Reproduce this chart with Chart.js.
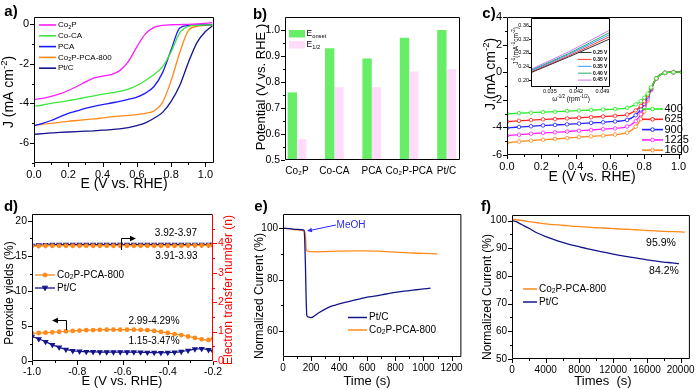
<!DOCTYPE html>
<html>
<head>
<meta charset="utf-8">
<script src="https://cdn.jsdelivr.net/npm/chart.js@4"></script>
<style>
  body { margin: 0; background: #fff; }
  #wrap { position: relative; width: 700px; height: 390px; overflow: hidden; background: #fff; }
  #wrap canvas { position: absolute; }
</style>
</head>
<body>
<div id="wrap"></div>
<script>
// ---- a) LSV of the catalysts ----
const aE = [0, 0.05, 0.1, 0.15, 0.2, 0.25, 0.3, 0.35, 0.4, 0.45, 0.5, 0.55, 0.6, 0.65, 0.7, 0.75, 0.8, 0.85, 0.9, 0.95, 1.0, 1.04];
const aNames = ["Co_{2}P", "Co-CA", "PCA", "Co_{2}P-PCA-800", "Pt/C"];
const aCo2P = [-3.8, -3.75, -3.65, -3.52, -3.35, -3.15, -2.92, -2.72, -2.63, -2.55, -2.35, -1.9, -1.15, -0.5, -0.17, -0.07, -0.04, -0.03, -0.02, 0, 0.03, 0.06];
const aCoCA = [-4.15, -4.08, -4.0, -3.93, -3.86, -3.78, -3.7, -3.62, -3.53, -3.47, -3.4, -3.28, -3.1, -2.85, -2.55, -2.15, -1.4, -0.45, -0.12, -0.07, -0.05, -0.05];
const aPCA = [-5.12, -5.0, -4.86, -4.68, -4.5, -4.38, -4.25, -4.15, -4.06, -3.98, -3.9, -3.8, -3.68, -3.48, -3.15, -2.45, -1.3, -0.2, -0.08, -0.05, -0.04, -0.04];
const aCo2PPCA = [-5.12, -5.05, -5.0, -4.95, -4.9, -4.86, -4.82, -4.78, -4.73, -4.68, -4.64, -4.6, -4.56, -4.5, -4.38, -3.95, -2.85, -1.45, -0.33, -0.12, -0.07, -0.05];
const aPtC = [-5.56, -5.52, -5.48, -5.46, -5.44, -5.42, -5.4, -5.38, -5.35, -5.32, -5.28, -5.22, -5.12, -4.98, -4.75, -4.45, -3.9, -3.1, -1.95, -0.95, -0.38, -0.1];
const aXMajor = [0, 0.2, 0.4, 0.6, 0.8, 1.0], aXMinor = [0.1, 0.3, 0.5, 0.7, 0.9];
const aYMajor = [0, -2, -4, -6], aYMinor = [-1, -3, -5, -7];

// ---- b) onset / half-wave potentials ----
const bCats = ["Co₂P", "Co-CA", "PCA", "Co₂P-PCA", "Pt/C"];
const bOnset = [0.76, 0.93, 0.89, 0.97, 1.00];
const bHalf = [0.58, 0.78, 0.78, 0.84, 0.85];
const bYMajor = [0.5, 0.6, 0.7, 0.8, 0.9, 1.0], bYMinor = [0.55, 0.65, 0.75, 0.85, 0.95];

// ---- c) LSV at different rotation rates ----
const cE = [0, 0.07, 0.14, 0.21, 0.28, 0.35, 0.42, 0.49, 0.56, 0.63, 0.70, 0.75, 0.78, 0.80, 0.82, 0.84, 0.87, 0.92, 0.97, 1.02];
const cRpm = ["400", "625", "900", "1225", "1600"];
const c400 = [-3.02, -2.97, -2.93, -2.89, -2.86, -2.82, -2.78, -2.74, -2.71, -2.67, -2.58, -2.33, -2.1, -1.85, -1.55, -1.1, -0.45, -0.05, 0, 0];
const c625 = [-3.58, -3.52, -3.47, -3.42, -3.39, -3.35, -3.3, -3.26, -3.21, -3.16, -3.07, -2.77, -2.45, -2.1, -1.65, -1.15, -0.45, -0.05, 0, 0];
const c900 = [-4.05, -3.97, -3.92, -3.86, -3.82, -3.78, -3.72, -3.67, -3.63, -3.57, -3.46, -3.12, -2.7, -2.3, -1.75, -1.2, -0.45, -0.05, 0, 0];
const c1225 = [-4.6, -4.53, -4.46, -4.4, -4.36, -4.3, -4.24, -4.19, -4.13, -4.07, -3.94, -3.55, -3.05, -2.55, -1.9, -1.25, -0.45, -0.05, 0, 0];
const c1600 = [-5.12, -5.03, -4.96, -4.89, -4.84, -4.78, -4.71, -4.65, -4.59, -4.52, -4.38, -3.95, -3.4, -2.85, -2.05, -1.3, -0.45, -0.05, 0, 0];
const cXMajor = [0, 0.2, 0.4, 0.6, 0.8, 1.0], cXMinor = [0.1, 0.3, 0.5, 0.7, 0.9];
const cYMajor = [-6, -4, -2, 0, 2, 4], cYMinor = [-5, -3, -1, 1, 3];

// inset: Koutecky-Levich lines
const iW = [0.030, 0.040, 0.051];
const iPot = ["0.25 V", "0.30 V", "0.35 V", "0.40 V", "0.45 V"];
const i025 = [0.222, 0.268, 0.321];
const i030 = [0.224, 0.271, 0.328];
const i035 = [0.227, 0.275, 0.334];
const i040 = [0.229, 0.278, 0.340];
const i045 = [0.232, 0.283, 0.347];
const iXMajor = [0.035, 0.042, 0.049];
const iYMajor = [0.20, 0.24, 0.28, 0.32, 0.36];

// ---- d) peroxide yield and electron transfer number ----
const dE = [-1.00, -0.97, -0.94, -0.91, -0.88, -0.85, -0.82, -0.79, -0.76, -0.73, -0.70, -0.67, -0.64, -0.61,
            -0.58, -0.55, -0.52, -0.49, -0.46, -0.43, -0.40, -0.37, -0.34, -0.31, -0.28, -0.25, -0.22, -0.20];
const dPerCo = [3.95, 4.0, 4.05, 4.1, 4.18, 4.25, 4.3, 4.35, 4.4, 4.42, 4.45, 4.47, 4.48, 4.48,
                4.48, 4.47, 4.45, 4.4, 4.3, 4.15, 4.0, 3.85, 3.7, 3.5, 3.3, 3.1, 3.0, 3.2];
const dPerPt = [3.5, 3.15, 2.75, 2.3, 1.95, 1.65, 1.45, 1.38, 1.33, 1.3, 1.28, 1.28, 1.28, 1.28,
                1.28, 1.27, 1.25, 1.22, 1.2, 1.18, 1.2, 1.25, 1.35, 1.5, 1.7, 1.75, 1.6, 1.4];
const dNCo = [3.91, 3.91, 3.92, 3.92, 3.92, 3.92, 3.92, 3.92, 3.92, 3.92, 3.92, 3.92, 3.92, 3.92,
              3.92, 3.92, 3.92, 3.92, 3.92, 3.92, 3.92, 3.92, 3.92, 3.93, 3.93, 3.93, 3.93, 3.93];
const dNPt = [3.93, 3.94, 3.95, 3.96, 3.96, 3.96, 3.96, 3.96, 3.96, 3.96, 3.96, 3.96, 3.96, 3.96,
              3.96, 3.96, 3.96, 3.96, 3.96, 3.96, 3.96, 3.96, 3.96, 3.96, 3.96, 3.96, 3.96, 3.96];
const dXMajor = [-1.0, -0.8, -0.6, -0.4, -0.2], dXMinor = [-0.9, -0.7, -0.5, -0.3];
const dYMajor = [0, 5, 10, 15, 20], dYMinor = [2.5, 7.5, 12.5, 17.5];
const dNMajor = [0, 1, 2, 3, 4], dNMinor = [0.5, 1.5, 2.5, 3.5, 4.5];

// ---- e) methanol tolerance ----
const eTPt = [0, 50, 100, 150, 155, 160, 165, 170, 185, 200, 250, 300, 350, 400, 450, 500, 550, 600, 650, 700, 750, 800, 850, 900, 950, 1000, 1050];
const ePt = [100, 99.8, 99.5, 99.2, 95, 85, 72, 66, 65.5, 65.3, 67, 68.6, 69.8, 70.6, 71.3, 72.0, 72.6, 73.2, 73.6, 74.1, 74.6, 75.1, 75.5, 75.8, 76.1, 76.4, 76.7];
const eTCo = [0, 50, 100, 150, 160, 165, 170, 200, 250, 300, 400, 500, 600, 700, 800, 900, 1000, 1100];
const eCo = [100, 99.7, 99.3, 99.0, 97, 92, 91.2, 90.9, 90.8, 90.9, 91.1, 91.2, 91.2, 91.0, 90.7, 90.4, 90.2, 90.0];
const eXMajor = [0, 200, 400, 600, 800, 1000, 1200], eXMinor = [100, 300, 500, 700, 900, 1100];
const eYMajor = [60, 80, 100], eYMinor = [70, 90];

// ---- f) stability ----
const fTCo = [0, 1000, 2000, 3000, 4000, 5000, 6000, 7000, 8000, 9000, 10000, 11000, 12000, 13000, 14000, 15000, 16000, 17000, 18000, 19000, 20000, 20500];
const fCo = [100.5, 100.1, 99.6, 99.2, 98.8, 98.5, 98.3, 98.0, 97.8, 97.6, 97.4, 97.3, 97.1, 96.9, 96.8, 96.6, 96.4, 96.3, 96.1, 96.0, 95.9, 95.8];
const fTPt = [0, 500, 1000, 1500, 2000, 3000, 4000, 5000, 6000, 7000, 8000, 9000, 10000, 11000, 12000, 13000, 14000, 15000, 16000, 17000, 18000, 19000, 19800];
const fPt = [100, 99.6, 98.8, 98.0, 97.2, 95.5, 94.2, 93.1, 92.1, 91.2, 90.5, 89.8, 89.1, 88.5, 87.9, 87.3, 86.8, 86.3, 85.8, 85.4, 85.0, 84.7, 84.4];
const fXMajor = [0, 4000, 8000, 12000, 16000, 20000], fXMinor = [2000, 6000, 10000, 14000, 18000];
const fYMajor = [50, 60, 70, 80, 90, 100], fYMinor = [55, 65, 75, 85, 95];

// colours
const MAG = "#ff1aff", GRN = "#3ce63c", BLU = "#1a1aff", ORG = "#ff8a1a", NAVY = "#14148c";

const FONT = "'Liberation Sans', Arial, Helvetica, sans-serif";
Chart.defaults.font.family = FONT;
Chart.defaults.color = "#000";
Chart.defaults.animation = false;
Chart.defaults.responsive = false;
Chart.defaults.events = [];
Chart.defaults.plugins.legend.display = false;
Chart.defaults.plugins.tooltip.enabled = false;

// === helpers ===
const xy = (xs, ys) => ys.map((y, i) => ({ x: xs[i], y }));

function mount(box) {
  const c = document.createElement("canvas");
  c.width = box.w; c.height = box.h;
  c.style.left = box.x + "px"; c.style.top = box.y + "px";
  c.style.width = box.w + "px"; c.style.height = box.h + "px";
  document.getElementById("wrap").appendChild(c);
  return c;
}

// pins the plot area to the frame measured on the reference
function pad(box, fr, rightAxis) {
  return { padding: { top: fr.t - box.y, left: 0, bottom: 0, right: rightAxis ? 0 : box.x + box.w - fr.r } };
}

function axis(min, max, major, minor, fmt, size, fit, o = {}) {
  return {
    type: "linear", min, max, offset: false,
    position: o.position,
    grid: { display: false, drawTicks: false },
    border: { display: false },
    afterBuildTicks: s => { s.ticks = major.concat(minor).sort((p, q) => p - q).map(value => ({ value })); },
    afterFit: fit,
    ticks: {
      autoSkip: false, maxRotation: 0, padding: o.padding ?? 5, color: o.color || "#000", font: { size },
      callback: v => major.some(m => Math.abs(m - v) < 1e-9) ? fmt(v) : ""
    }
  };
}
const fitW = w => s => { s.width = w; };
const fitH = h => s => { s.height = h; };

function line(xs, ys, color, extra = {}) {
  return Object.assign({
    data: xy(xs, ys), borderColor: color, backgroundColor: color, borderWidth: 1.3,
    pointRadius: 0, tension: 0.35, cubicInterpolationMode: "monotone"
  }, extra);
}

// frame box + outward tick marks (long for labelled, short for minor)
function frame(cfg = {}) {
  return {
    id: "frame",
    beforeDraw(chart) {
      if (!cfg.fill) return;
      const { ctx, chartArea: a } = chart;
      ctx.save(); ctx.fillStyle = cfg.fill; ctx.fillRect(a.left, a.top, a.width, a.height); ctx.restore();
    },
    afterDatasetsDraw(chart) {
      const { ctx, chartArea: a } = chart;
      const big = cfg.big || 4, small = cfg.small || 2;
      ctx.save();
      ctx.lineWidth = 1;
      Object.values(chart.scales).forEach(s => {
        if ((cfg.skip || []).includes(s.id)) return;
        ctx.strokeStyle = (cfg.colors || {})[s.id] || "#000";
        s.ticks.forEach(t => {
          const len = t.label === "" ? small : big;
          const p = Math.round(s.getPixelForValue(t.value)) + 0.5;
          ctx.beginPath();
          if (s.position === "left") { ctx.moveTo(a.left, p); ctx.lineTo(a.left - len, p); }
          else if (s.position === "right") { ctx.moveTo(a.right, p); ctx.lineTo(a.right + len, p); }
          else { ctx.moveTo(p, a.bottom); ctx.lineTo(p, a.bottom + len); }
          ctx.stroke();
        });
      });
      const L = a.left + 0.5, R = a.right - 0.5, T = a.top + 0.5, B = a.bottom - 0.5;
      ctx.strokeStyle = "#000";
      ctx.beginPath();
      ctx.moveTo(R, T); ctx.lineTo(L, T); ctx.lineTo(L, B); ctx.lineTo(R, B);
      ctx.stroke();
      ctx.strokeStyle = cfg.right || "#000";
      ctx.beginPath(); ctx.moveTo(R, T); ctx.lineTo(R, B); ctx.stroke();
      ctx.restore();
    }
  };
}

// text with ^{sup} and _{sub}
function parseRich(str) {
  const out = [];
  let i = 0;
  while (i < str.length) {
    if ((str[i] === "^" || str[i] === "_") && str[i + 1] === "{") {
      const j = str.indexOf("}", i);
      out.push({ t: str.slice(i + 2, j), k: str[i] });
      i = j + 1;
    } else {
      let j = i;
      while (j < str.length && !((str[j] === "^" || str[j] === "_") && str[j + 1] === "{")) j++;
      out.push({ t: str.slice(i, j), k: "" });
      i = j;
    }
  }
  return out;
}
function rich(ctx, str, x, y, size, o = {}) {
  const segs = parseRich(str);
  const w8 = o.bold ? "bold " : "";
  const fnt = k => w8 + (k ? size * 0.68 : size) + "px " + FONT;
  let w = 0;
  segs.forEach(s => { ctx.font = fnt(s.k); s.w = ctx.measureText(s.t).width; w += s.w; });
  ctx.save();
  ctx.translate(x, y);
  if (o.rot) ctx.rotate(o.rot);
  ctx.fillStyle = o.color || "#000";
  ctx.textBaseline = "middle";
  ctx.textAlign = "left";
  let cx = o.align === "left" ? 0 : o.align === "right" ? -w : -w / 2;
  segs.forEach(s => {
    ctx.font = fnt(s.k);
    const dy = s.k === "^" ? -size * 0.33 : s.k === "_" ? size * 0.25 : 0;
    ctx.fillText(s.t, cx, dy);
    cx += s.w;
  });
  ctx.restore();
}
const UP = -Math.PI / 2;

function marker(ctx, kind, x, y, r, stroke, fill) {
  ctx.save();
  ctx.strokeStyle = stroke; ctx.fillStyle = fill; ctx.lineWidth = 1;
  ctx.beginPath();
  if (kind === "tri") { ctx.moveTo(x - r, y - r * 0.7); ctx.lineTo(x + r, y - r * 0.7); ctx.lineTo(x, y + r); ctx.closePath(); }
  else ctx.arc(x, y, r, 0, Math.PI * 2);
  ctx.fill(); ctx.stroke();
  ctx.restore();
}
function seg(ctx, x1, y1, x2, y2, color, lw) {
  ctx.save(); ctx.strokeStyle = color; ctx.lineWidth = lw || 1.3;
  ctx.beginPath(); ctx.moveTo(x1, y1); ctx.lineTo(x2, y2); ctx.stroke(); ctx.restore();
}
function head(ctx, x, y, ang, size, color) {
  ctx.save(); ctx.translate(x, y); ctx.rotate(ang); ctx.fillStyle = color;
  ctx.beginPath(); ctx.moveTo(0, 0); ctx.lineTo(-size, -size * 0.45); ctx.lineTo(-size, size * 0.45); ctx.closePath(); ctx.fill();
  ctx.restore();
}
function deco(box, fn) {
  return { id: "deco", afterDraw(chart) { const ctx = chart.ctx; ctx.save(); ctx.translate(-box.x, -box.y); fn(ctx, chart); ctx.restore(); } };
}

// === a) ===
const boxA = { x: 0, y: 0, w: 230, h: 195 }, frA = { l: 34, t: 17, r: 214, b: 163 };
const aColors = [MAG, GRN, BLU, ORG, NAVY];
new Chart(mount(boxA), {
  type: "line",
  data: { datasets: [aCo2P, aCoCA, aPCA, aCo2PPCA, aPtC].map((ys, i) => line(aE, ys, aColors[i])) },
  options: {
    layout: pad(boxA, frA),
    scales: {
      x: axis(0, 1.05, aXMajor, aXMinor, v => v.toFixed(1), 11, fitH(boxA.y + boxA.h - frA.b)),
      y: axis(-7, 0.35, aYMajor, aYMinor, v => String(v), 11, fitW(frA.l - boxA.x))
    }
  },
  plugins: [frame(), deco(boxA, ctx => {
    rich(ctx, "a)", 11, 12, 15, { bold: true });
    rich(ctx, "J (mA cm^{-2})", 9, 92, 14, { rot: UP });
    rich(ctx, "E (V vs. RHE)", 124, 184, 14);
    aNames.forEach((n, i) => {
      const y = 25 + i * 10.8;
      seg(ctx, 39, y, 56, y, aColors[i], 1.6);
      rich(ctx, n, 58, y, 8, { align: "left" });
    });
  })]
});

// === b) ===
const boxB = { x: 230, y: 0, w: 240, h: 195 }, frB = { l: 285, t: 17, r: 460, b: 160 };
new Chart(mount(boxB), {
  type: "bar",
  data: {
    datasets: [
      { data: bOnset.map((v, i) => ({ x: i + 1, y: v })), backgroundColor: "#66ee66", categoryPercentage: 0.5, barPercentage: 1, base: 0.5, clip: 0 },
      { data: bHalf.map((v, i) => ({ x: i + 1, y: v })), backgroundColor: "#ffdcfb", categoryPercentage: 0.5, barPercentage: 1, base: 0.5, clip: 0 }
    ]
  },
  options: {
    layout: pad(boxB, frB),
    scales: {
      x: {
        type: "linear", min: 0.68, max: 5.36, offset: false,
        grid: { display: false, drawTicks: false }, border: { display: false },
        afterBuildTicks: s => { s.ticks = bCats.map((c, i) => ({ value: i + 1 })); },
        afterFit: fitH(boxB.y + boxB.h - frB.b),
        ticks: { autoSkip: false, maxRotation: 0, padding: 5, font: { size: 10 }, callback: v => bCats[Math.round(v) - 1] }
      },
      y: axis(0.5, 1.05, bYMajor, bYMinor, v => v.toFixed(1), 10.5, fitW(frB.l - boxB.x))
    }
  },
  plugins: [frame({ skip: ["x"] }), deco(boxB, ctx => {
    rich(ctx, "b)", 260, 15, 15, { bold: true });
    rich(ctx, "Potential (V vs. RHE )", 261, 87, 13, { rot: UP });
    ctx.fillStyle = "#66ee66"; ctx.fillRect(289, 30, 16, 7.5);
    ctx.fillStyle = "#ffdcfb"; ctx.fillRect(289, 41, 16, 7.5);
    rich(ctx, "E_{onset}", 306.5, 34, 8.5, { align: "left" });
    rich(ctx, "E_{1/2}", 306.5, 45, 8.5, { align: "left" });
  })]
});

// === c) ===
const boxC = { x: 460, y: 0, w: 240, h: 195 }, frC = { l: 507, t: 17, r: 682, b: 155 };
const cColors = ["#22ee22", "#ff2222", "#2222ff", "#ff22ff", "#ff8822"];
const cPt = { pointRadius: 1.8, pointBackgroundColor: "#fff", pointBorderWidth: 0.8, borderWidth: 1.3 };
new Chart(mount(boxC), {
  type: "line",
  data: { datasets: [c400, c625, c900, c1225, c1600].map((ys, i) => line(cE, ys, cColors[i], Object.assign({ pointBorderColor: cColors[i] }, cPt))) },
  options: {
    layout: pad(boxC, frC),
    scales: {
      x: axis(0, 1.02, cXMajor, cXMinor, v => v.toFixed(1), 11, fitH(boxC.y + boxC.h - frC.b)),
      y: axis(-6, 4, cYMajor, cYMinor, v => String(v), 11, fitW(frC.l - boxC.x))
    }
  },
  plugins: [frame(), deco(boxC, ctx => {
    rich(ctx, "c)", 489, 14, 15, { bold: true });
    rich(ctx, "J (mA cm^{-2})", 491, 74, 14, { rot: UP });
    rich(ctx, "E (V vs. RHE)", 592, 177, 14);
    cRpm.forEach((n, i) => {
      const y = 109 + i * 10.3;
      seg(ctx, 642, y, 663, y, cColors[i], 1.6);
      marker(ctx, "circ", 652.5, y, 1.8, cColors[i], "#fff");
      rich(ctx, n, 664.5, y, 11, { align: "left" });
    });
  })]
});

// inset of c)
const boxI = { x: 505, y: 10, w: 110, h: 95 }, frI = { l: 531, t: 18, r: 610, b: 87 };
const iColors = ["#333333", "#ff3333", "#3399ff", "#22aa66", "#cc77ee"];
new Chart(mount(boxI), {
  type: "line",
  data: { datasets: [i025, i030, i035, i040, i045].map((ys, i) => line(iW, ys, iColors[i], { borderWidth: 1, tension: 0 })) },
  options: {
    layout: pad(boxI, frI),
    scales: {
      x: axis(0.030, 0.051, iXMajor, [], v => v.toFixed(3), 5.5, fitH(boxI.y + boxI.h - frI.b), { padding: 1 }),
      y: axis(0.18, 0.382, iYMajor, [], v => v.toFixed(2), 5.5, fitW(frI.l - boxI.x), { padding: 2 })
    }
  },
  plugins: [frame({ fill: "#fff", big: 2, small: 1 }), deco(boxI, ctx => {
    rich(ctx, "J^{-1}(mA^{-1}cm^{-2})", 516, 46, 6.5, { rot: UP });
    rich(ctx, "ω^{-1/2} (rpm^{-1/2})", 571, 99, 6.5);
    iPot.forEach((n, i) => {
      const y = 52.5 + i * 6.9;
      seg(ctx, 578, y, 591.5, y, iColors[i], 1);
      rich(ctx, n, 593, y, 5, { align: "left", bold: true });
    });
  })]
});

// === d) ===
const boxD = { x: 0, y: 195, w: 240, h: 195 }, frD = { l: 32, t: 214, r: 213, b: 361 };
const dOrgPts = { pointRadius: 1.8, pointStyle: "circle", pointBackgroundColor: ORG, pointBorderColor: ORG, borderWidth: 1.2, tension: 0.3 };
const dNavPts = { pointRadius: 2.4, pointStyle: "triangle", pointRotation: 180, pointBackgroundColor: NAVY, pointBorderColor: NAVY, borderWidth: 1.2, tension: 0.3 };
new Chart(mount(boxD), {
  type: "line",
  data: {
    datasets: [
      line(dE, dPerCo, ORG, Object.assign({ yAxisID: "y" }, dOrgPts)),
      line(dE, dPerPt, NAVY, Object.assign({ yAxisID: "y" }, dNavPts)),
      line(dE, dNCo, ORG, Object.assign({ yAxisID: "y2" }, dOrgPts)),
      line(dE, dNPt, NAVY, Object.assign({ yAxisID: "y2" }, dNavPts))
    ]
  },
  options: {
    layout: pad(boxD, frD, true),
    scales: {
      x: axis(-1.0, -0.2, dXMajor, dXMinor, v => v.toFixed(1), 10.5, fitH(boxD.y + boxD.h - frD.b)),
      y: axis(0, 21, dYMajor, dYMinor, v => String(v), 10.5, fitW(frD.l - boxD.x), { position: "left" }),
      y2: axis(0, 5, dNMajor, dNMinor, v => String(v), 10.5, fitW(boxD.x + boxD.w - frD.r), { position: "right", color: "#ff0000" })
    }
  },
  plugins: [frame({ colors: { y2: "#ff0000" }, right: "#ff0000" }), deco(boxD, ctx => {
    rich(ctx, "d)", 11, 207, 15, { bold: true });
    rich(ctx, "Peroxide yields (%)", 10, 293, 12, { rot: UP });
    rich(ctx, "Electron transfer number (n)", 229, 290, 12, { rot: UP, color: "#ff0000" });
    rich(ctx, "E (V vs. RHE)", 122, 381, 13);
    seg(ctx, 35, 275, 55, 275, ORG, 1.3); marker(ctx, "circ", 45, 275, 2, ORG, ORG);
    rich(ctx, "Co_{2}P-PCA-800", 57, 275, 10, { align: "left" });
    seg(ctx, 35, 288, 55, 288, NAVY, 1.3); marker(ctx, "tri", 45, 288, 2.6, NAVY, NAVY);
    rich(ctx, "Pt/C", 57, 288, 10, { align: "left" });
    rich(ctx, "3.92-3.97", 176, 233, 10);
    rich(ctx, "3.91-3.93", 176.5, 256, 10);
    rich(ctx, "2.99-4.29%", 154, 321, 10);
    rich(ctx, "1.15-3.47%", 154, 341.5, 10);
    ctx.save(); ctx.strokeStyle = "#000"; ctx.lineWidth = 1;
    ctx.beginPath(); ctx.moveTo(121.5, 250); ctx.lineTo(121.5, 238.5); ctx.lineTo(131, 238.5); ctx.stroke();
    ctx.beginPath(); ctx.moveTo(66.5, 330); ctx.lineTo(66.5, 320.5); ctx.lineTo(57, 320.5); ctx.stroke();
    ctx.restore();
    head(ctx, 136, 238.5, 0, 6, "#000");
    head(ctx, 52, 320.5, Math.PI, 6, "#000");
  })]
});

// === e) ===
const boxE = { x: 240, y: 195, w: 228, h: 195 }, frE = { l: 283, t: 214, r: 462, b: 357 };
new Chart(mount(boxE), {
  type: "line",
  data: {
    datasets: [
      line(eTPt, ePt, NAVY, { tension: 0.2 }),
      line(eTCo, eCo, ORG, { tension: 0.2 })
    ]
  },
  options: {
    layout: pad(boxE, frE),
    scales: {
      x: axis(0, 1270, eXMajor, eXMinor, v => String(v), 10, fitH(boxE.y + boxE.h - frE.b)),
      y: axis(50, 105.5, eYMajor, eYMinor, v => String(v), 10, fitW(frE.l - boxE.x))
    }
  },
  plugins: [frame(), deco(boxE, ctx => {
    rich(ctx, "e)", 261, 207, 15, { bold: true });
    rich(ctx, "Normalized Current (%)", 260, 296, 12, { rot: UP });
    rich(ctx, "Time (s)", 367, 381, 13);
    rich(ctx, "MeOH", 351, 225, 10, { color: "#2a2aff" });
    seg(ctx, 336, 225, 312, 230, "#2a2aff", 1);
    head(ctx, 307, 231, Math.atan2(6, -29), 5, "#2a2aff");
    seg(ctx, 348, 317.5, 367, 317.5, NAVY, 1.5);
    rich(ctx, "Pt/C", 369, 317.5, 10, { align: "left" });
    seg(ctx, 348, 330, 367, 330, ORG, 1.5);
    rich(ctx, "Co_{2}P-PCA-800", 369, 330, 10, { align: "left" });
  })]
});

// === f) ===
const boxF = { x: 468, y: 195, w: 232, h: 195 }, frF = { l: 512, t: 215, r: 691, b: 359 };
new Chart(mount(boxF), {
  type: "line",
  data: {
    datasets: [
      line(fTCo, fCo, ORG, { tension: 0.3 }),
      line(fTPt, fPt, NAVY, { tension: 0.3 })
    ]
  },
  options: {
    layout: pad(boxF, frF),
    scales: {
      x: axis(0, 21100, fXMajor, fXMinor, v => String(v), 10, fitH(boxF.y + boxF.h - frF.b)),
      y: axis(50, 102, fYMajor, fYMinor, v => String(v), 10, fitW(frF.l - boxF.x))
    }
  },
  plugins: [frame(), deco(boxF, ctx => {
    rich(ctx, "f)", 486, 207, 15, { bold: true });
    rich(ctx, "Normalized Current (%)", 488, 297, 12, { rot: UP });
    rich(ctx, "Times  (s)", 603, 381, 13);
    rich(ctx, "95.9%", 661, 243.5, 10.5);
    rich(ctx, "84.2%", 664, 271.5, 10.5);
    seg(ctx, 523, 289, 537, 289, ORG, 1.5);
    rich(ctx, "Co_{2}P-PCA-800", 539, 289, 10, { align: "left" });
    seg(ctx, 523, 302, 537, 302, NAVY, 1.5);
    rich(ctx, "Pt/C", 539, 302, 10, { align: "left" });
  })]
});
</script>
</body>
</html>
